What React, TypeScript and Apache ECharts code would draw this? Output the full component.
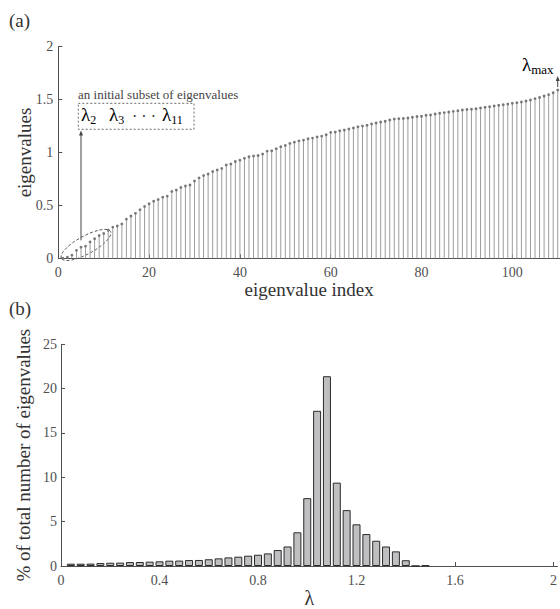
import React, { useEffect, useRef } from "react";
import * as echarts from "echarts";

// (a) sorted eigenvalues, index 1..110
const eigenvalues = [
  0, 0.01, 0.03, 0.075, 0.105, 0.115, 0.155, 0.185, 0.215, 0.235,
  0.265, 0.295, 0.305, 0.325, 0.37, 0.4, 0.425, 0.46, 0.49, 0.515,
  0.54, 0.555, 0.578, 0.588, 0.632, 0.645, 0.67, 0.683, 0.693, 0.73,
  0.76, 0.782, 0.797, 0.82, 0.835, 0.85, 0.882, 0.891, 0.915, 0.928,
  0.945, 0.96, 0.967, 0.972, 0.985, 1.013, 1.016, 1.036, 1.055, 1.067,
  1.086, 1.098, 1.11, 1.117, 1.13, 1.136, 1.148, 1.155, 1.168, 1.19,
  1.193, 1.205, 1.212, 1.222, 1.232, 1.243, 1.25, 1.257, 1.27, 1.279,
  1.288, 1.295, 1.307, 1.316, 1.32, 1.322, 1.326, 1.333, 1.34, 1.342,
  1.352, 1.355, 1.364, 1.371, 1.377, 1.383, 1.389, 1.395, 1.402, 1.407,
  1.409, 1.414, 1.421, 1.427, 1.433, 1.44, 1.446, 1.452, 1.458, 1.465,
  1.471, 1.477, 1.487, 1.496, 1.509, 1.52, 1.534, 1.547, 1.565, 1.59,
];
const indexTicks = [0, 20, 40, 60, 80, 100];

// (b) histogram of eigenvalues (% of total)
const binCenters = [
  0.04, 0.08, 0.12, 0.16, 0.2, 0.24, 0.28, 0.32, 0.36, 0.4,
  0.44, 0.48, 0.52, 0.56, 0.6, 0.64, 0.68, 0.72, 0.76, 0.8,
  0.84, 0.88, 0.92, 0.96, 1.0, 1.04, 1.08, 1.12, 1.16, 1.2,
  1.24, 1.28, 1.32, 1.36, 1.4, 1.44, 1.48,
];
const binPercents = [
  0.26, 0.26, 0.27, 0.33, 0.37, 0.38, 0.44, 0.45, 0.49, 0.53,
  0.6, 0.61, 0.67, 0.68, 0.76, 0.86, 0.97, 1.05, 1.16, 1.27,
  1.42, 1.8, 2.2, 3.8, 7.65, 17.5, 21.4, 9.4, 6.3, 4.7,
  3.6, 2.85, 2.2, 1.65, 0.65, 0, 0.06,
];
const lambdaTicks = [0, 0.4, 0.8, 1.2, 1.6, 2];

const FONT = "Liberation Serif";
const AXIS = "#505050";
const TICKTXT = "#505050";
const NAMETXT = "#333333";

export default function App() {
  const ref = useRef<HTMLDivElement>(null);
  useEffect(() => {
    if (!ref.current) return;
    const chart = echarts.init(ref.current, undefined, { renderer: "svg" });
    const axisCommon = {
      axisLine: { show: true, lineStyle: { color: AXIS, width: 1 } },
      splitLine: { show: false },
      nameMoveOverlap: false,
    };
    const option: any = {
      animation: false,
      backgroundColor: "#ffffff",
      textStyle: { fontFamily: FONT },
      grid: [
        { left: 58.3, top: 46.7, right: 0, bottom: 350.7 },
        { left: 61, top: 344.3, right: 0, bottom: 41.3 },
      ],
      xAxis: [
        {
          ...axisCommon,
          type: "value",
          gridIndex: 0,
          min: 0,
          max: 110.5,
          axisTick: { show: true, inside: true, length: 4, customValues: indexTicks, lineStyle: { color: AXIS } },
          axisLabel: { customValues: indexTicks, fontFamily: FONT, fontSize: 14, color: TICKTXT, margin: 7 },
          name: "eigenvalue index",
          nameLocation: "middle",
          nameGap: 22,
          nameTextStyle: { fontFamily: FONT, fontSize: 19, color: NAMETXT },
        },
        {
          ...axisCommon,
          type: "value",
          gridIndex: 1,
          min: 0,
          max: 2.016,
          axisTick: { show: true, inside: true, length: 4, customValues: lambdaTicks, lineStyle: { color: AXIS } },
          axisLabel: { customValues: lambdaTicks, fontFamily: FONT, fontSize: 14, color: TICKTXT, margin: 7 },
          name: "λ",
          nameLocation: "middle",
          nameGap: 22,
          nameTextStyle: { fontFamily: FONT, fontSize: 20, color: NAMETXT },
        },
      ],
      yAxis: [
        {
          ...axisCommon,
          type: "value",
          gridIndex: 0,
          min: 0,
          max: 2,
          interval: 0.5,
          axisTick: { show: true, inside: true, length: 4, lineStyle: { color: AXIS } },
          axisLabel: { fontFamily: FONT, fontSize: 14, color: TICKTXT, margin: 5 },
          name: "eigenvalues",
          nameLocation: "middle",
          nameGap: 24,
          nameTextStyle: { fontFamily: FONT, fontSize: 19, color: NAMETXT },
        },
        {
          ...axisCommon,
          type: "value",
          gridIndex: 1,
          min: 0,
          max: 25,
          interval: 5,
          axisTick: { show: true, inside: true, length: 4, lineStyle: { color: AXIS } },
          axisLabel: { fontFamily: FONT, fontSize: 14, color: TICKTXT, margin: 4 },
          name: "% of total number of eigenvalues",
          nameLocation: "middle",
          nameGap: 28,
          nameTextStyle: { fontFamily: FONT, fontSize: 19, color: NAMETXT },
        },
      ],
      series: [
        {
          type: "custom",
          xAxisIndex: 0,
          yAxisIndex: 0,
          data: eigenvalues.map((v, i) => [i + 1, v]),
          renderItem: (params: any, api: any) => {
            const x = api.value(0);
            const y = api.value(1);
            const p0 = api.coord([x, 0]);
            const p1 = api.coord([x, y]);
            return {
              type: "group",
              children: [
                {
                  type: "line",
                  shape: { x1: p0[0], y1: p0[1], x2: p1[0], y2: p1[1] },
                  style: { stroke: "#9c9c9c", lineWidth: 1 },
                },
                {
                  type: "circle",
                  shape: { cx: p1[0], cy: p1[1], r: 1.4 },
                  style: { fill: "#777777" },
                },
              ],
            };
          },
        },
        {
          type: "bar",
          xAxisIndex: 1,
          yAxisIndex: 1,
          data: binCenters.map((c, i) => [c, binPercents[i]]),
          barWidth: 8,
          itemStyle: { color: "#bfbfc2", borderColor: "#2b2b2b", borderWidth: 1 },
        },
      ],
    };
    chart.setOption(option);

    const px = (x: number, y: number) =>
      chart.convertToPixel({ gridIndex: 0 } as any, [x, y]) as number[];

    const arrowBase = px(5, 0.17);
    const arrowTipY = 130.5;
    const ell = px(6.1, 0.126);
    const last = px(eigenvalues.length, eigenvalues[eigenvalues.length - 1]);

    const lamRich = {
      l: { fontFamily: FONT, fontSize: 19, color: "#333" },
      s: { fontFamily: FONT, fontSize: 12, color: "#333", padding: [11, 0, 0, 0] },
    };
    const lamText = (x: number, y: number, sub: string) => ({
      type: "text",
      x,
      y,
      style: { text: `{l|λ}{s|${sub}}`, rich: lamRich, verticalAlign: "middle", align: "left" },
    });

    chart.setOption({
      graphic: [
        { type: "text", x: 9, y: 11, style: { text: "(a)", fontFamily: FONT, fontSize: 19, fill: "#333" } },
        { type: "text", x: 9, y: 299, style: { text: "(b)", fontFamily: FONT, fontSize: 19, fill: "#333" } },
        {
          type: "ellipse",
          x: ell[0],
          y: ell[1],
          rotation: 0.5,
          shape: { cx: 0, cy: 0, rx: 28, ry: 9 },
          style: { fill: "none", stroke: "#444", lineWidth: 0.8, lineDash: [3, 2] },
        },
        {
          type: "line",
          shape: { x1: arrowBase[0], y1: arrowBase[1], x2: arrowBase[0], y2: arrowTipY + 4 },
          style: { stroke: "#444", lineWidth: 1 },
        },
        {
          type: "polygon",
          shape: {
            points: [
              [arrowBase[0], arrowTipY],
              [arrowBase[0] - 2, arrowTipY + 5],
              [arrowBase[0] + 2, arrowTipY + 5],
            ],
          },
          style: { fill: "#444" },
        },
        {
          type: "rect",
          shape: { x: 78.3, y: 103.3, width: 115.7, height: 26 },
          style: { fill: "none", stroke: "#444", lineWidth: 0.8, lineDash: [2, 2] },
        },
        {
          type: "text",
          x: 78,
          y: 94.5,
          style: {
            text: "an initial subset of eigenvalues",
            fontFamily: FONT,
            fontSize: 13,
            fill: "#444",
            verticalAlign: "middle",
          },
        },
        lamText(81, 114, "2"),
        lamText(109, 114, "3"),
        {
          type: "text",
          x: 132,
          y: 116,
          style: { text: "· · ·", fontFamily: FONT, fontSize: 16, fill: "#333", verticalAlign: "middle" },
        },
        lamText(162, 114, "11"),
        {
          type: "line",
          shape: { x1: last[0], y1: last[1] - 3, x2: last[0], y2: 80 },
          style: { stroke: "#444", lineWidth: 1 },
        },
        {
          type: "polygon",
          shape: {
            points: [
              [last[0], 76],
              [last[0] - 2, 81],
              [last[0] + 2, 81],
            ],
          },
          style: { fill: "#444" },
        },
        {
          type: "text",
          x: 522,
          y: 64,
          style: {
            text: "{l|λ}{s|max}",
            rich: {
              l: { fontFamily: FONT, fontSize: 19, color: "#333" },
              s: { fontFamily: FONT, fontSize: 13, color: "#333", padding: [10, 0, 0, 0] },
            },
            verticalAlign: "middle",
            align: "left",
          },
        },
      ],
    });

    return () => chart.dispose();
  }, []);
  return (
    <div
      ref={ref}
      style={{ position: "fixed", left: 0, top: 0, width: 560, height: 609, background: "#fff" }}
    />
  );
}
